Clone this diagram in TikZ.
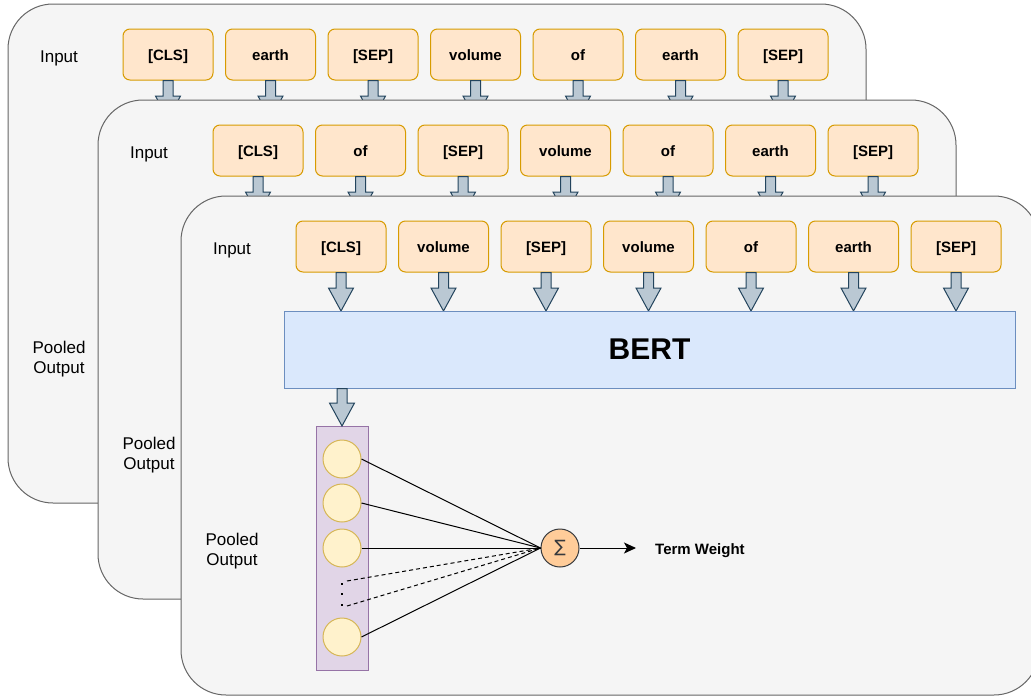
\documentclass[tikz,border=0pt]{standalone}
\usepackage{fontspec}
\setmainfont{Liberation Sans}
\newfontfamily\symfont{DejaVu Sans}
\usetikzlibrary{calc,arrows.meta}

\definecolor{panelfill}{HTML}{F5F5F5}
\definecolor{panelline}{HTML}{666666}
\definecolor{tokfill}{HTML}{FFE6CC}
\definecolor{tokline}{HTML}{D79B00}
\definecolor{arrfill}{HTML}{BAC8D3}
\definecolor{arrline}{HTML}{23445D}
\definecolor{bertfill}{HTML}{DAE8FC}
\definecolor{bertline}{HTML}{6C8EBF}
\definecolor{poolfill}{HTML}{E1D5E7}
\definecolor{poolline}{HTML}{9673A6}
\definecolor{unitfill}{HTML}{FFF2CC}
\definecolor{unitline}{HTML}{D6B656}
\definecolor{sumfill}{HTML}{FFCC99}
\definecolor{sumline}{HTML}{36393D}

\tikzset{
  x=1pt, y=-1pt,
  panelbox/.style={draw=panelline, fill=panelfill, rounded corners=45pt,
    line width=1pt, inner sep=0pt, minimum width=858pt, minimum height=499pt},
  token/.style={draw=tokline, fill=tokfill, rounded corners=7pt,
    minimum width=90pt, minimum height=51pt, inner sep=0pt, line width=1pt,
    text height=13pt, text depth=0.3pt,
    font=\fontsize{15}{18}\selectfont\bfseries},
  sidelabel/.style={align=center, inner sep=0pt, font=\fontsize{17}{20}\selectfont},
  blockarr/.style={draw=arrline, fill=arrfill, line width=1pt, line join=miter},
  encoder/.style={draw=bertline, fill=bertfill, line width=1pt, inner sep=0pt,
    minimum width=731pt, minimum height=77pt,
    font=\fontsize{30}{36}\selectfont\bfseries},
  poolbox/.style={draw=poolline, fill=poolfill, line width=1pt, inner sep=0pt,
    minimum width=52pt, minimum height=244pt},
  unit/.style={circle, draw=unitline, fill=unitfill, line width=1pt,
    inner sep=0pt, minimum size=38pt},
  sumnode/.style={circle, draw=sumline, fill=sumfill, line width=1pt,
    inner sep=0pt, minimum size=38pt},
  wire/.style={line width=1pt, black},
  dashwire/.style={line width=1pt, black, dash pattern=on 4pt off 3pt},
  dotmark/.style={fill=black, inner sep=0pt, minimum size=2.6pt},
  outlabel/.style={anchor=west, inner sep=0pt, font=\fontsize{15}{18}\selectfont\bfseries},
}

% fat down-arrow from #1 to the tip #2
\newcommand\blockarrow[2]{%
  \draw[blockarr] let \p1=#1, \p2=#2 in
    (\x1-5pt,\y1) -- (\x1+5pt,\y1) -- (\x1+5pt,\y2+23pt) -- (\x1+12.5pt,\y2+23pt)
    -- (\x1,\y2) -- (\x1-12.5pt,\y2+23pt) -- (\x1-5pt,\y2+23pt) -- cycle;}

% one input sheet: #1 prefix, #2/#3 offset, #4 tokens
\newcommand\drawpanel[4]{%
  \begin{scope}[shift={(#2,#3)}]
    \node[panelbox] (#1) at (437,253.5) {};
    \node[sidelabel] (#1in) at (59,58) {Input};
    \node[sidelabel] (#1po) at (59,359) {Pooled\\Output};
    \coordinate (#1enc) at (0,119);
    \foreach \w [count=\i] in {#4} {
      \node[token] (#1t\i) at ({168+102.5*(\i-1)},54.5) {\w};
      \blockarrow{(#1t\i.south)}{(#1t\i.south |- #1enc)}
    }
  \end{scope}}

\begin{document}
\begin{tikzpicture}
\useasboundingbox (0,0) rectangle (1031,696);

\drawpanel{pa}{0}{0}{{[CLS]},earth,{[SEP]},volume,of,earth,{[SEP]}}
\drawpanel{pb}{90}{96}{{[CLS]},of,{[SEP]},volume,of,earth,{[SEP]}}
\drawpanel{pc}{173}{192}{{[CLS]},volume,{[SEP]},volume,of,earth,{[SEP]}}

% encoder and pooled output of the front sheet
\node[encoder] (bert) at (649.5,349.5) {\raisebox{-1pt}{BERT}};
\node[poolbox] (pool) at (342,548.5) {};
\blockarrow{(bert.south -| pool.north)}{(pool.north)}

\node[unit] (u1) at (342,459) {};
\node[unit] (u2) at (342,503) {};
\node[unit] (u3) at (342,548) {};
\node[unit] (u4) at (342,637) {};

\node[dotmark] (k1) at (342,584) {};
\node[dotmark] (k2) at (342,594) {};
\node[dotmark] (k3) at (342,605) {};
\coordinate (d1) at (347,581);
\coordinate (d2) at (347,606);

\node[sumnode] (sum) at (560,548) {\fontsize{17}{20}\selectfont\symfont\textcolor{sumline}{∑}};

\draw[wire] (u1.east) -- (sum.west);
\draw[wire] (u2.east) -- (sum.west);
\draw[wire] (u3.east) -- (sum.west);
\draw[wire] (u4.east) -- (sum.west);
\draw[dashwire] (d1) -- (sum.west);
\draw[dashwire] (d2) -- (sum.west);

\node[outlabel] (tw) at (655,550.5) {Term Weight};
\coordinate (twend) at (636,548);
\draw[wire, -{Stealth[length=12pt, width=11pt, inset=3pt]}] (sum.east) -- (twend);
\end{tikzpicture}
\end{document}
